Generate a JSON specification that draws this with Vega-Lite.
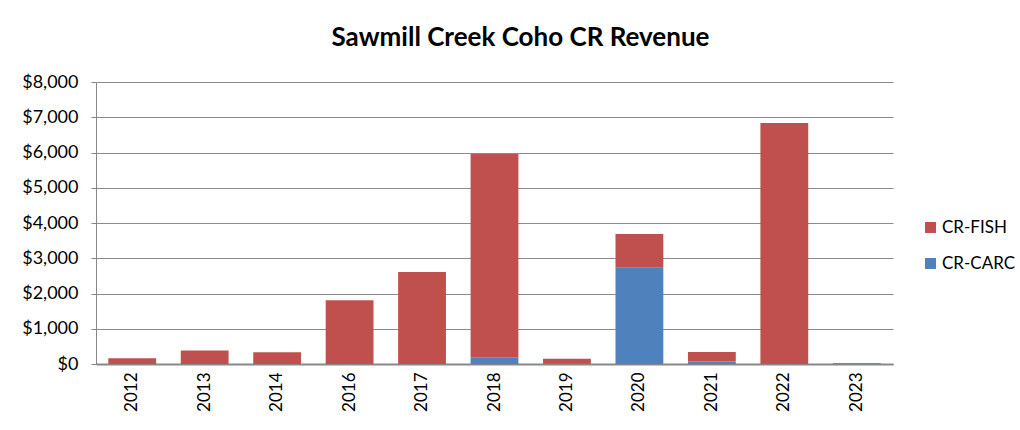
{
  "$schema": "https://vega.github.io/schema/vega-lite/v6.json",
  "autosize": "none",
  "width": 797,
  "height": 282,
  "padding": {"left": 96, "top": 82, "right": 127, "bottom": 66},
  "background": "white",
  "title": {
    "text": "Sawmill Creek Coho CR Revenue",
    "font": "Lato",
    "fontSize": 26,
    "fontWeight": "bold",
    "color": "#000000",
    "anchor": "middle",
    "dx": 26,
    "offset": 22
  },
  "data": {
    "values": [
      {"year": "2012", "series": "CR-FISH", "value": 160},
      {"year": "2012", "series": "CR-CARC", "value": 0},
      {"year": "2013", "series": "CR-FISH", "value": 380},
      {"year": "2013", "series": "CR-CARC", "value": 0},
      {"year": "2014", "series": "CR-FISH", "value": 330},
      {"year": "2014", "series": "CR-CARC", "value": 0},
      {"year": "2016", "series": "CR-FISH", "value": 1810},
      {"year": "2016", "series": "CR-CARC", "value": 0},
      {"year": "2017", "series": "CR-FISH", "value": 2610},
      {"year": "2017", "series": "CR-CARC", "value": 0},
      {"year": "2018", "series": "CR-FISH", "value": 5770},
      {"year": "2018", "series": "CR-CARC", "value": 190},
      {"year": "2019", "series": "CR-FISH", "value": 120},
      {"year": "2019", "series": "CR-CARC", "value": 30},
      {"year": "2020", "series": "CR-FISH", "value": 960},
      {"year": "2020", "series": "CR-CARC", "value": 2730},
      {"year": "2021", "series": "CR-FISH", "value": 270},
      {"year": "2021", "series": "CR-CARC", "value": 70},
      {"year": "2022", "series": "CR-FISH", "value": 6840},
      {"year": "2022", "series": "CR-CARC", "value": 0},
      {"year": "2023", "series": "CR-FISH", "value": 20},
      {"year": "2023", "series": "CR-CARC", "value": 0}
    ]
  },
  "mark": {"type": "bar"},
  "encoding": {
    "x": {
      "field": "year",
      "type": "nominal",
      "scale": {"paddingInner": 0.34, "paddingOuter": 0.17},
      "axis": {
        "title": null,
        "labelAngle": -90,
        "labelAlign": "right",
        "labelBaseline": "middle",
        "labelFont": "Lato",
        "labelFontSize": 17,
        "labelColor": "#000000",
        "labelPadding": 8,
        "ticks": false,
        "domainColor": "#888888",
        "domainWidth": 2
      }
    },
    "y": {
      "field": "value",
      "type": "quantitative",
      "aggregate": "sum",
      "stack": "zero",
      "scale": {"domain": [0, 8000]},
      "axis": {
        "title": null,
        "values": [0, 1000, 2000, 3000, 4000, 5000, 6000, 7000, 8000],
        "format": "$,.0f",
        "labelFont": "Lato",
        "labelFontSize": 18,
        "labelColor": "#000000",
        "labelPadding": 13,
        "tickSize": 5,
        "tickColor": "#888888",
        "domainColor": "#888888",
        "grid": true,
        "gridColor": "#8c8c8c",
        "gridWidth": 1
      }
    },
    "color": {
      "field": "series",
      "type": "nominal",
      "scale": {"domain": ["CR-FISH", "CR-CARC"], "range": ["#C0504D", "#4F81BD"]},
      "legend": {
        "title": null,
        "orient": "none",
        "legendX": 826,
        "legendY": 137,
        "symbolType": "square",
        "symbolSize": 120,
        "symbolStrokeWidth": 0,
        "labelFont": "Lato",
        "labelFontSize": 17,
        "labelColor": "#000000",
        "rowPadding": 18,
        "labelOffset": 3
      }
    },
    "order": {"field": "series", "sort": "ascending"}
  },
  "config": {
    "view": {"stroke": null}
  }
}
